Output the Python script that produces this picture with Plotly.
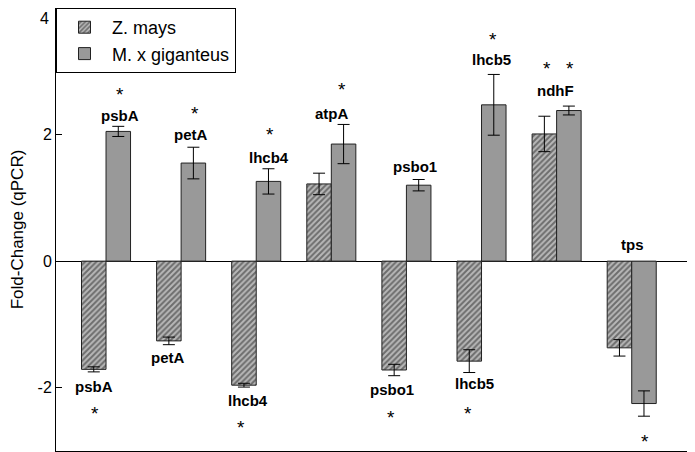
import plotly.graph_objects as go

genes = ["psbA", "petA", "lhcb4", "atpA", "psbo1", "lhcb5", "ndhF", "tps"]
zmays = [-1.71, -1.26, -1.96, 1.22, -1.72, -1.58, 2.01, -1.37]
zmays_err = [0.04, 0.06, 0.03, 0.17, 0.09, 0.18, 0.28, 0.13]
mxg = [2.05, 1.55, 1.26, 1.85, 1.20, 2.47, 2.38, -2.25]
mxg_err = [0.08, 0.25, 0.20, 0.31, 0.09, 0.48, 0.07, 0.20]
ytick_vals = [-2, 0, 2, 4]
ytick_text = ["-2", "0", "2", ""]
top_tick_label = "4"

FONT = "Arial, Liberation Sans, sans-serif"
xs = list(range(len(genes)))

fig = go.Figure()
fig.add_trace(go.Bar(
    x=xs, y=zmays, name="Z. mays",
    marker=dict(color="#b0b0b0", line=dict(color="#222222", width=1),
                pattern=dict(shape="/", fgcolor="#222222", bgcolor="#b8b8b8",
                             size=4, solidity=0.5)),
    error_y=dict(type="data", array=zmays_err, color="black", thickness=1, width=6),
))
fig.add_trace(go.Bar(
    x=xs, y=mxg, name="M. x giganteus",
    marker=dict(color="#999999", line=dict(color="#222222", width=1)),
    error_y=dict(type="data", array=mxg_err, color="black", thickness=1, width=6),
))

# gene labels: (text, x, y)
labels = [
    ("psbA", 0.186, 2.30), ("petA", 1.13, 2.00), ("lhcb4", 2.17, 1.64),
    ("atpA", 3.005, 2.33), ("psbo1", 4.11, 1.50), ("lhcb5", 5.13, 3.18),
    ("ndhF", 5.98, 2.70), ("tps", 7.01, 0.27),
    ("psbA", -0.156, -1.98), ("petA", 0.82, -1.53), ("lhcb4", 1.89, -2.20),
    ("psbo1", 3.81, -2.03), ("lhcb5", 4.90, -1.94),
]
stars = [
    (0.186, 2.67), (1.185, 2.37), (2.18, 2.04), (3.14, 2.74), (5.15, 3.53),
    (5.87, 3.08), (6.18, 3.08),
    (-0.146, -2.38), (1.80, -2.59), (3.80, -2.44), (4.82, -2.37), (7.18, -2.82),
]
ann = []
for t, x, y in labels:
    ann.append(dict(text="<b>%s</b>" % t, x=x, y=y, xref="x", yref="y",
                    showarrow=False, font=dict(family=FONT, size=15, color="black")))
for x, y in stars:
    ann.append(dict(text="*", x=x, y=y, xref="x", yref="y", yshift=-2,
                    showarrow=False, font=dict(family=FONT, size=19, color="black")))
# top tick label, kept fully inside the figure
ann.append(dict(text=top_tick_label, x=0, y=1, xref="paper", yref="paper",
                xanchor="right", yanchor="top", xshift=-5, yshift=0,
                showarrow=False, font=dict(family=FONT, size=16, color="black")))

# page body has an 8px margin; figure is sized to compensate
fig.update_layout(
    width=687, height=444,
    margin=dict(l=48, r=2, t=0, b=1, autoexpand=False),
    paper_bgcolor="white", plot_bgcolor="white",
    barmode="group", bargap=0.347, bargroupgap=0,
    font=dict(family=FONT, size=16, color="black"),
    showlegend=True,
    legend=dict(x=0, y=1, xanchor="left", yanchor="top", bgcolor="white",
                bordercolor="black", borderwidth=1, itemwidth=45,
                font=dict(family=FONT, size=18, color="black"),
                tracegroupgap=0),
    annotations=ann,
    xaxis=dict(range=[-0.666, 7.816], showticklabels=False, ticks="",
               showline=True, linecolor="black", linewidth=1, mirror=True,
               showgrid=False, zeroline=False, automargin=False),
    yaxis=dict(range=[-3.0, 4.0], tickvals=ytick_vals, ticktext=ytick_text,
               ticks="inside", ticklen=6, tickcolor="black", automargin=False,
               showline=True, linecolor="black", linewidth=1, mirror="ticks",
               showgrid=False, zeroline=True, zerolinecolor="black", zerolinewidth=1,
               title=dict(text="Fold-Change (qPCR)", font=dict(size=17, color="black"),
                          standoff=12),
               tickfont=dict(size=16, color="black")),
)
fig.write_html("out.html")
